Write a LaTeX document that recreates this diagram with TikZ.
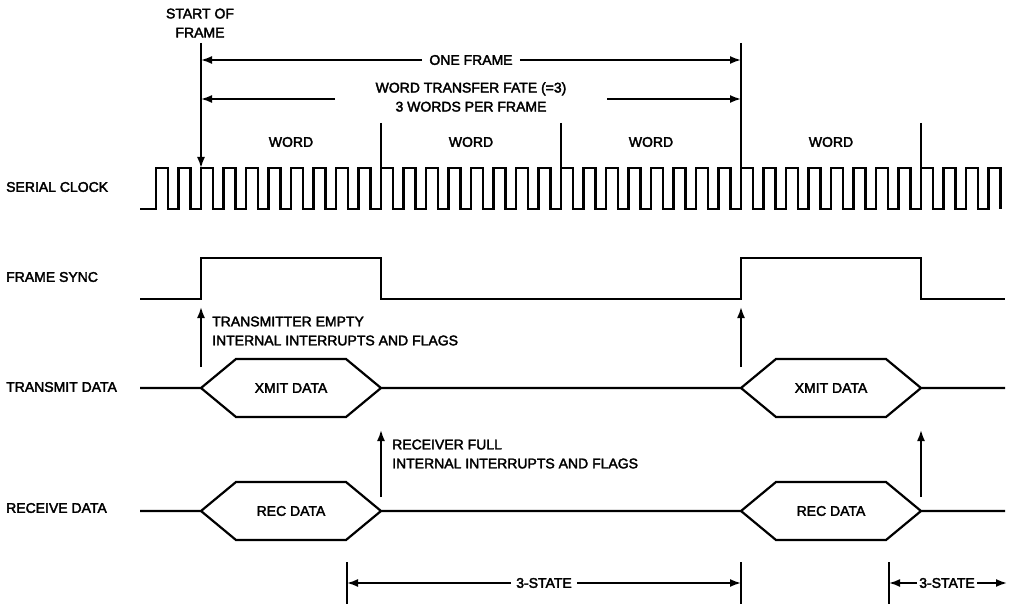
\documentclass[tikz,border=0pt]{standalone}
\usepackage{fontspec}
\setmainfont{Liberation Sans}[FakeBold=2.5]
\usetikzlibrary{arrows.meta}

\begin{document}
\begin{tikzpicture}[x=1pt, y=-1pt,
  wave/.style={line width=2.2pt},
  tickline/.style={line width=2pt},
  dim/.style={line width=1.8pt, -{Latex[length=11pt,width=8pt]}},
  lbl/.style={font=\fontsize{14}{19}\selectfont, inner sep=1pt},
  sig/.style={lbl, anchor=west}]
  \useasboundingbox (0,0) rectangle (1010,604);

  % Labels
  \node[sig] (sclk) at (5,187) {SERIAL CLOCK};
  \node[sig] (fsync) at (5,277) {FRAME SYNC};
  \node[sig] (txd) at (5,387) {TRANSMIT DATA};
  \node[sig] (rxd) at (5,508) {RECEIVE DATA};

  % Serial clock (8 clocks per word)
  \draw[wave] (140,209) foreach \k in {-2,...,35} {
    -- ({201+\k*22.5},209) -- ({201+\k*22.5},168)
    -- ({213+\k*22.5},168) -- ({213+\k*22.5},209) };

  % Frame sync
  \draw[wave] (140,299) -- (201,299) -- (201,258) -- (381,258) -- (381,299)
    -- (741,299) -- (741,258) -- (921,258) -- (921,299) -- (1005,299);

  % Transmit data
  \draw[wave] (140,388) -- (201,388) -- (236,359) -- (346,359) -- (381,388)
    -- (741,388) -- (776,359) -- (886,359) -- (921,388) -- (1005,388);
  \draw[wave] (201,388) -- (236,417) -- (346,417) -- (381,388);
  \draw[wave] (741,388) -- (776,417) -- (886,417) -- (921,388);
  \node[lbl] (xmit1) at (291,388) {XMIT DATA};
  \node[lbl] (xmit2) at (831,388) {XMIT DATA};

  % Receive data
  \draw[wave] (140,511) -- (201,511) -- (236,482) -- (346,482) -- (381,511)
    -- (741,511) -- (776,482) -- (886,482) -- (921,511) -- (1005,511);
  \draw[wave] (201,511) -- (236,540) -- (346,540) -- (381,511);
  \draw[wave] (741,511) -- (776,540) -- (886,540) -- (921,511);
  \node[lbl] (rec1) at (291,511) {REC DATA};
  \node[lbl] (rec2) at (831,511) {REC DATA};

  % Interrupt arrows
  \coordinate (te1b) at (201,367); \coordinate (te1t) at (201,307);
  \coordinate (te2b) at (741,367); \coordinate (te2t) at (741,307);
  \coordinate (rf1b) at (381,497); \coordinate (rf1t) at (381,430);
  \coordinate (rf2b) at (921,497); \coordinate (rf2t) at (921,430);
  \draw[dim] (te1b) -- (te1t);
  \draw[dim] (te2b) -- (te2t);
  \draw[dim] (rf1b) -- (rf1t);
  \draw[dim] (rf2b) -- (rf2t);
  \node[lbl, anchor=west, align=left] (tempty) at (211,331)
    {TRANSMITTER EMPTY\\INTERNAL INTERRUPTS AND FLAGS};
  \node[lbl, anchor=west, align=left] (rfull) at (391,454)
    {RECEIVER FULL\\INTERNAL INTERRUPTS AND FLAGS};

  % Frame and word marks
  \node[lbl, align=center] (sof) at (200,23) {START OF\\FRAME};
  \coordinate (sofa) at (201,43); \coordinate (sofb) at (201,168);
  \coordinate (eofa) at (741,43); \coordinate (eofb) at (741,168);
  \draw[dim] (sofa) -- (sofb);
  \draw[tickline] (eofa) -- (eofb);
  \foreach \x in {381,561,921}
    \draw[tickline] (\x,123) -- (\x,168);
  \foreach \x in {291,471,651,831}
    \node[lbl] at (\x,142) {WORD};

  \node[lbl, inner sep=7pt] (oneframe) at (471,60) {ONE FRAME};
  \draw[dim] (oneframe.west) -- (sofa |- oneframe);
  \draw[dim] (oneframe.east) -- (eofa |- oneframe);

  \node[lbl, align=center] (rate) at (471,97)
    {WORD TRANSFER FATE (=3)\\3 WORDS PER FRAME};
  \coordinate (ratel) at (335,99); \coordinate (rater) at (607,99);
  \draw[dim] (ratel) -- (sofa |- ratel);
  \draw[dim] (rater) -- (eofa |- rater);

  % 3-state
  \foreach \x in {347,741,889}
    \draw[tickline] (\x,562) -- (\x,604);
  \node[lbl, inner sep=5pt] (tstate1) at (544,583) {3-STATE};
  \draw[dim] (tstate1.west) -- (347,583);
  \draw[dim] (tstate1.east) -- (741,583);
  \node[lbl, inner sep=2pt] (tstate2) at (947,583) {3-STATE};
  \draw[dim] (tstate2.west) -- (889,583);
  \draw[dim] (tstate2.east) -- (1007,583);
\end{tikzpicture}
\end{document}
